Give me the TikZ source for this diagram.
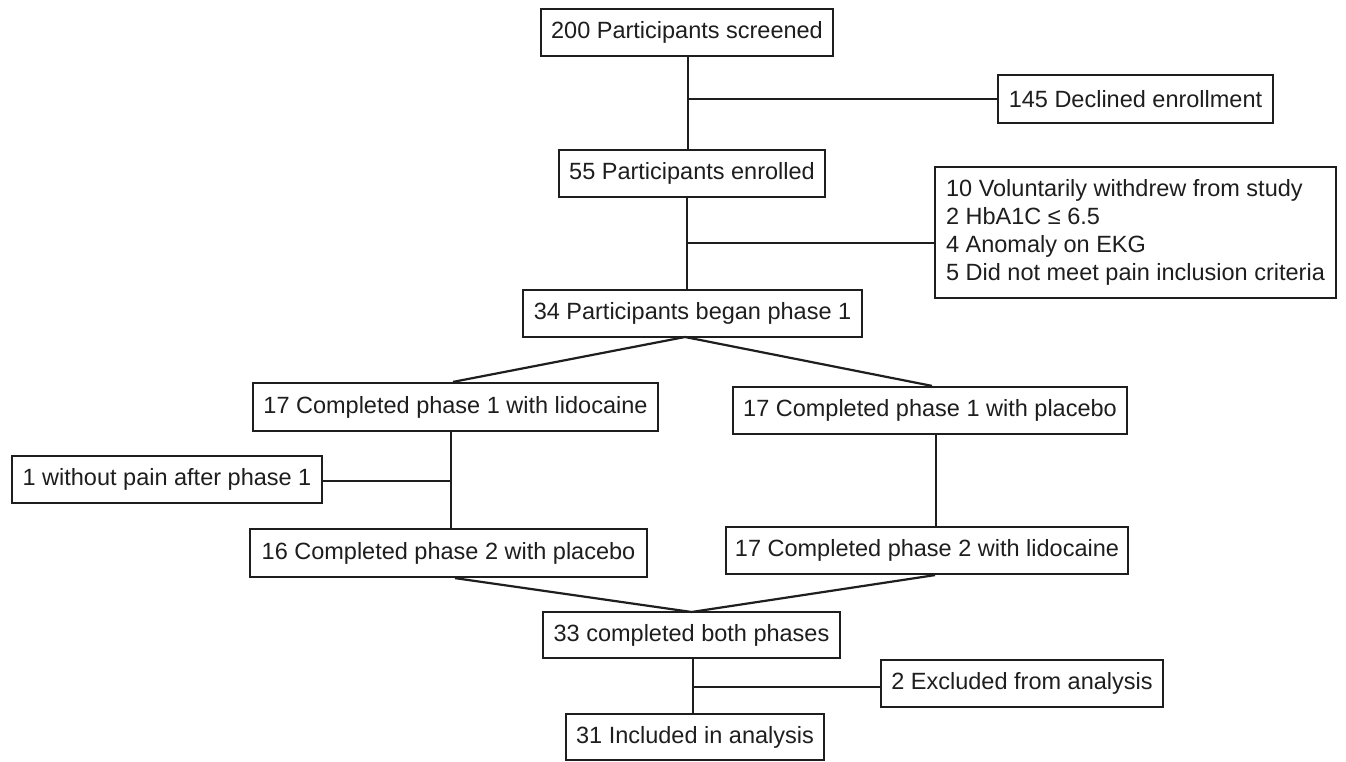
\documentclass[tikz,border=0pt]{standalone}
\usepackage{fontspec}
\setmainfont{Liberation Sans}
\definecolor{ink}{HTML}{1E1E1E}
\begin{document}
\begin{tikzpicture}[x=1pt,y=-1pt,
  box/.style={draw=ink, line width=2.2pt, inner sep=0pt, text=ink,
    font=\fontsize{23.5pt}{28pt}\selectfont, minimum height=47pt},
  link/.style={draw=ink, line width=2.2pt}]
\useasboundingbox (0,0) rectangle (1346,762);
\fill[white] (0,0) rectangle (1346,762);
% nodes
\node[box, minimum width=292pt] (scr) at (687,32.5) {200 Participants screened};
\node[box, minimum width=275pt, minimum height=48pt] (dec) at (1135.5,99) {145 Declined enrollment};
\node[box, minimum width=266pt] (enr) at (692,173.5) {55 Participants enrolled};
\node[box, minimum width=401pt, minimum height=131pt, align=left] (exc) at (1135.5,232.5)
  {10 Voluntarily withdrew from study\\2 HbA1C ≤ 6.5\\4 Anomaly on EKG\\5 Did not meet pain inclusion criteria};
\node[box, minimum width=339pt] (ph1) at (692.5,313.5) {34 Participants began phase 1};
\node[box, minimum width=405pt, minimum height=48pt] (lid1) at (455.5,407) {17 Completed phase 1 with lidocaine};
\node[box, minimum width=394pt] (pla1) at (930,410.5) {17 Completed phase 1 with placebo};
\node[box, minimum width=310pt] (wop) at (167,479.5) {1 without pain after phase 1};
\node[box, minimum width=397pt, minimum height=48pt] (pl2) at (448.5,553) {16 Completed phase 2 with placebo};
\node[box, minimum width=402pt] (li2) at (927,550.5) {17 Completed phase 2 with lidocaine};
\node[box, minimum width=297pt, minimum height=46pt] (both) at (691.5,635) {33 completed both phases};
\node[box, minimum width=282pt] (exa) at (1022,683.5) {2 Excluded from analysis};
\node[box, minimum width=258pt, minimum height=46pt] (inc) at (695,737) {31 Included in analysis};
% junction coordinates
\coordinate (j1) at (688,99);
\coordinate (j2) at (687,243);
\coordinate (a1) at (685,337);
\coordinate (j3) at (451,481);
\coordinate (a2) at (691.5,612);
\coordinate (j4) at (693,687);
% connectors
\draw[link] (scr.south -| j1) -- (enr.north -| j1);
\draw[link] (j1) -- (dec.west |- j1);
\draw[link] (enr.south -| j2) -- (ph1.north -| j2);
\draw[link] (j2) -- (exc.west |- j2);
\draw[link] (a1) -- ([xshift=-2.5pt]lid1.north);
\draw[link] (a1) -- ([xshift=2pt]pla1.north);
\draw[link] (lid1.south -| j3) -- (pl2.north -| j3);
\draw[link] (j3) -- (wop.east |- j3);
\draw[link] ([xshift=6pt]pla1.south) -- ([xshift=9pt]li2.north);
\draw[link] ([xshift=6.5pt]pl2.south) -- (a2);
\draw[link] ([xshift=8pt]li2.south) -- (a2);
\draw[link] (both.south -| j4) -- (inc.north -| j4);
\draw[link] (j4) -- (exa.west |- j4);
\end{tikzpicture}
\end{document}
